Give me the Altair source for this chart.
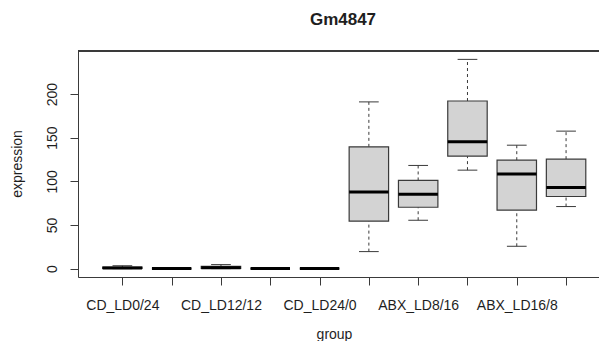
import altair as alt
import pandas as pd

# ---- data (five-number summaries per group) ----
groups = ["CD_LD0/24", "CD_LD8/16", "CD_LD12/12", "CD_LD16/8", "CD_LD24/0",
          "ABX_LD0/24", "ABX_LD8/16", "ABX_LD12/12", "ABX_LD16/8", "ABX_LD24/0"]
wmin = [0.0, 0.0, 0.0, 0.0, 0.0, 19.5, 55.4, 112.8, 25.6, 71.1]
q1 = [0.2, 0.0, 0.3, 0.0, 0.0, 54.3, 70.3, 128.8, 66.9, 82.6]
med = [0.8, 0.0, 1.0, 0.0, 0.0, 87.9, 85.2, 145.3, 108.5, 92.9]
q3 = [1.8, 0.0, 2.6, 0.0, 0.0, 139.5, 101.0, 192.0, 124.2, 125.4]
wmax = [3.3, 0.0, 4.6, 0.0, 0.0, 191.0, 118.2, 239.7, 141.4, 157.5]
y_ticks = [0, 50, 100, 150, 200]
chart_title = "Gm4847"

df = pd.DataFrame({
    "group": groups,
    "pos": list(range(1, len(groups) + 1)),
    "wmin": wmin, "q1": q1, "med": med, "q3": q3, "wmax": wmax,
})

W = 521
H = 226
PX_PER_UNIT = 49.3
x_dom = [0.1, 0.1 + W / PX_PER_UNIT]
y_dom = [-9.6, 249.3]

FONT = "Liberation Sans"
EDGE = "#3a3a3a"
TEXT = "#1e1e1e"

# label expression: show every other label like R does
lab_map = "{" + ",".join(f"'{i+1}':'{g}'" for i, g in enumerate(groups)) + "}"
label_expr = f"datum.value % 2 == 1 ? {lab_map}[toString(datum.value)] : ''"

xsc = alt.Scale(domain=x_dom, nice=False, zero=False)
ysc = alt.Scale(domain=y_dom, nice=False, zero=False)

x_axis = alt.Axis(
    values=list(range(1, len(groups) + 1)), labelExpr=label_expr,
    tickSize=8, tickColor=EDGE, domainColor=EDGE, grid=False,
    labelFont=FONT, labelFontSize=14, labelColor=TEXT, labelPadding=13,
    labelAngle=0, labelAlign="center", labelBaseline="top", labelFlush=False,
    labelOverlap=False,
    title="group", titleFont=FONT, titleFontSize=14, titleFontWeight="normal",
    titleColor=TEXT, titleX=256, titleY=61, titleBaseline="alphabetic",
    titleAlign="center", titleAnchor="start",
)
y_axis = alt.Axis(
    values=y_ticks, tickSize=8, tickColor=EDGE, domainColor=EDGE, grid=False,
    labelFont=FONT, labelFontSize=14, labelColor=TEXT, labelPadding=11,
    labelAngle=270, labelAlign="center", labelBaseline="bottom", labelFlush=False,
    title="expression", titleFont=FONT, titleFontSize=14, titleFontWeight="normal",
    titleColor=TEXT, titleAngle=270, titleX=-56.6, titleY=112.5,
    titleBaseline="alphabetic", titleAlign="center", titleAnchor="start",
)

base = alt.Chart(df).transform_calculate(
    lo="datum.pos - 0.4", hi="datum.pos + 0.4",
    clo="datum.pos - 0.2", chi="datum.pos + 0.2",
)

def X(f):
    return alt.X(f, scale=xsc, axis=x_axis)

def Y(f):
    return alt.Y(f, scale=ysc, axis=y_axis)

whisk_lo = base.mark_rule(color=EDGE, strokeWidth=1, strokeDash=[3, 3]).encode(
    x=X("pos:Q"), y=Y("wmin:Q"), y2="q1:Q",
)
whisk_hi = base.mark_rule(color=EDGE, strokeWidth=1, strokeDash=[3, 3]).encode(
    x=X("pos:Q"), y=Y("q3:Q"), y2="wmax:Q",
)
cap_lo = base.mark_rule(color=EDGE, strokeWidth=1).encode(
    x=X("clo:Q"), x2="chi:Q", y=Y("wmin:Q"),
)
cap_hi = base.mark_rule(color=EDGE, strokeWidth=1).encode(
    x=X("clo:Q"), x2="chi:Q", y=Y("wmax:Q"),
)
box = base.mark_rect(fill="#d3d3d3", stroke=EDGE, strokeWidth=1.2).encode(
    x=X("lo:Q"), x2="hi:Q", y=Y("q1:Q"), y2="q3:Q",
)
median = base.mark_rule(color="#000000", strokeWidth=3).encode(
    x=X("lo:Q"), x2="hi:Q", y=Y("med:Q"),
)
top_frame = alt.Chart(df).mark_rule(color=EDGE, strokeWidth=1).encode(
    x=alt.value(0), x2=alt.value(W + 5), y=alt.value(0),
)
title_mark = alt.Chart(pd.DataFrame({"t": [chart_title]})).mark_text(
    font=FONT, fontSize=17, fontWeight="bold", color=TEXT,
    align="center", baseline="alphabetic",
).encode(
    text="t:N", x=alt.value(265), y=alt.value(-26),
)

chart = alt.layer(
    whisk_lo, whisk_hi, cap_lo, cap_hi, box, median, top_frame, title_mark
).properties(
    width=W, height=H,
    autosize=alt.AutoSizeParams(type="none"),
    padding={"left": 70, "top": 43, "right": 0, "bottom": 64},
).configure_view(stroke=None).configure(background="white")

chart.save("out.html", embed_options={"renderer": "svg", "actions": False})
